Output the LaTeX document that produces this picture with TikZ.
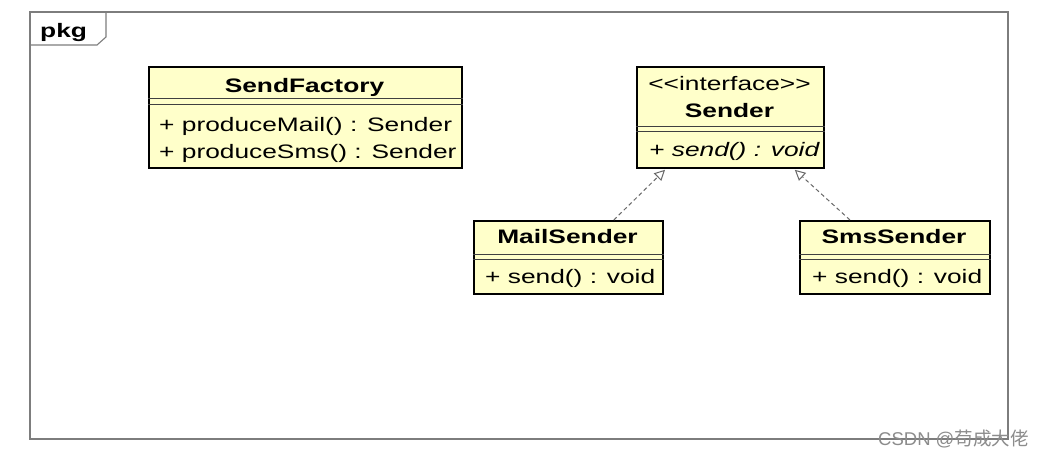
\documentclass[tikz,border=0pt]{standalone}
\usepackage{fontspec}
\setmainfont{Liberation Sans}
\newfontfamily\cjkfont{Noto Sans CJK SC}
\usepackage{graphicx}
\usetikzlibrary{arrows.meta}
\definecolor{umlfill}{RGB}{255,255,202}
\definecolor{framegray}{RGB}{125,125,125}
\definecolor{arrgray}{RGB}{105,105,105}
\newcommand{\wtxt}[1]{\scalebox{1.35}[1]{#1}}
\begin{document}
\begin{tikzpicture}[x=1pt,y=-1pt,
  cls/.style={draw=black, line width=1.8pt, fill=umlfill, rectangle, inner sep=0pt, anchor=north west},
  sepline/.style={draw=black!75, line width=0.9pt},
  txt/.style={inner sep=0pt, font=\fontsize{19.5}{20}\selectfont},
  frameline/.style={draw=framegray, line width=1.1pt},
  realize/.style={draw=arrgray, line width=1pt, dash pattern=on 4pt off 3pt,
    -{Triangle[open, length=10.5pt, width=10.5pt]}},
]
\useasboundingbox (0,0) rectangle (1045,458);
\fill[white] (0,0) rectangle (1045,458);

% package frame
\draw[frameline] (30,12) rectangle (1008,439);
\draw[frameline] (30,45) -- (97,45) -- (106,37) -- (106,12);
\node[txt, anchor=base west, font=\fontsize{19.5}{20}\selectfont\bfseries] (pkg) at (40,37) {\wtxt{pkg}};

% SendFactory
\node[cls, minimum width=313pt, minimum height=101pt] (sf) at (148,66) {};
\draw[sepline] ([yshift=-32pt]sf.north west) -- ([yshift=-32pt]sf.north east);
\draw[sepline] ([yshift=-38pt]sf.north west) -- ([yshift=-38pt]sf.north east);
\node[txt, anchor=base, font=\fontsize{19.5}{20}\selectfont\bfseries] (sft) at (304.5,92) {\wtxt{SendFactory}};
\node[txt, anchor=base west] (sfa) at (159,131) {\wtxt{+ produceMail() : Sender}};
\node[txt, anchor=base west] (sfb) at (159,158) {\wtxt{+ produceSms() : Sender}};

% Sender
\node[cls, minimum width=187pt, minimum height=101pt] (sender) at (636,66) {};
\draw[sepline] ([yshift=-60pt]sender.north west) -- ([yshift=-60pt]sender.north east);
\draw[sepline] ([yshift=-65pt]sender.north west) -- ([yshift=-65pt]sender.north east);
\node[txt, anchor=base] (st) at (729.5,90) {\wtxt{<{}<interface>{}>}};
\node[txt, anchor=base, font=\fontsize{19.5}{20}\selectfont\bfseries] (sn) at (729.5,117) {\wtxt{Sender}};
\node[txt, anchor=base west, font=\fontsize{19.5}{20}\selectfont\itshape] (sm) at (649,156) {\wtxt{+ send() : void}};

% MailSender
\node[cls, minimum width=189pt, minimum height=73pt] (mail) at (473,220) {};
\draw[sepline] ([yshift=-34pt]mail.north west) -- ([yshift=-34pt]mail.north east);
\draw[sepline] ([yshift=-39pt]mail.north west) -- ([yshift=-39pt]mail.north east);
\node[txt, anchor=base, font=\fontsize{19.5}{20}\selectfont\bfseries] (mt) at (567.5,243.5) {\wtxt{MailSender}};
\node[txt, anchor=base west] (mm) at (485,283.5) {\wtxt{+ send() : void}};

% SmsSender
\node[cls, minimum width=190pt, minimum height=73pt] (sms) at (799,220) {};
\draw[sepline] ([yshift=-34pt]sms.north west) -- ([yshift=-34pt]sms.north east);
\draw[sepline] ([yshift=-39pt]sms.north west) -- ([yshift=-39pt]sms.north east);
\node[txt, anchor=base, font=\fontsize{19.5}{20}\selectfont\bfseries] (smt) at (894,243.5) {\wtxt{SmsSender}};
\node[txt, anchor=base west] (smm) at (812,283.5) {\wtxt{+ send() : void}};

% realizations
\draw[realize] ([xshift=-50pt]mail.north east) -- ([xshift=29pt,yshift=-1pt]sender.south west);
\draw[realize] ([xshift=51pt]sms.north west) -- ([xshift=-30pt,yshift=-1pt]sender.south east);

% watermark
\node[txt, anchor=base west, text=black!45, font=\fontsize{18.5}{19}\selectfont] (wm) at (878,445) {CSDN @{\cjkfont 苟成大佬}};
\end{tikzpicture}
\end{document}
